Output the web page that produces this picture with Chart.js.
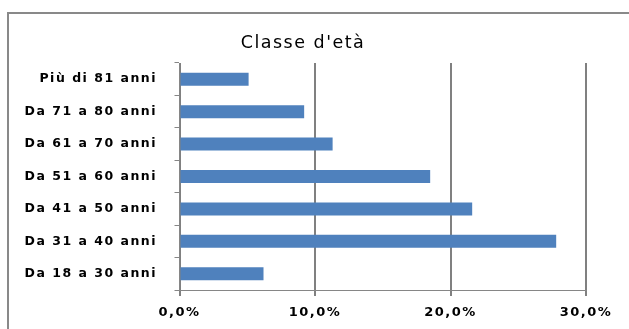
<!DOCTYPE html>
<html>
<head>
<meta charset="utf-8">
<script src="https://cdn.jsdelivr.net/npm/chart.js@4/dist/chart.umd.min.js"></script>
<style>
  html, body { margin: 0; padding: 0; background: #fff; }
  #wrap { position: relative; width: 629px; height: 329px; overflow: hidden; }
  #frame { position: absolute; left: 7px; top: 12px; width: 700px; height: 400px;
           border-left: 2px solid #898989; border-top: 2px solid #898989; }
  canvas { position: absolute; left: 0; top: 0; }
</style>
</head>
<body>
<div id="wrap">
  <div id="frame"></div>
  <canvas id="c" width="629" height="329"></canvas>
</div>
<script>
const categories = ['Da 18 a 30 anni', 'Da 31 a 40 anni', 'Da 41 a 50 anni', 'Da 51 a 60 anni',
                    'Da 61 a 70 anni', 'Da 71 a 80 anni', 'Più di 81 anni'];
const percentages = [6.2, 27.8, 21.6, 18.5, 11.3, 9.2, 5.1];
const xTicks = [0, 10, 20, 30];
const chartTitle = "Classe d'età";

const spacingPlugin = {
  id: 'spacing',
  beforeLayout(chart) { chart.ctx.letterSpacing = '1.5px'; },
  beforeDraw(chart) { chart.ctx.letterSpacing = '1.5px'; }
};

new Chart(document.getElementById('c'), {
  type: 'bar',
  data: {
    labels: categories,
    datasets: [{
      data: percentages,
      backgroundColor: '#4f81bd',
      borderWidth: 0,
      categoryPercentage: 1,
      barPercentage: 0.4
    }]
  },
  plugins: [spacingPlugin],
  options: {
    indexAxis: 'y',
    responsive: false,
    animation: false,
    layout: { padding: { left: 20, right: 43, top: 0, bottom: 0 } },
    plugins: {
      legend: { display: false },
      tooltip: { enabled: false },
      title: {
        display: true,
        text: chartTitle,
        color: '#000',
        font: { family: 'DejaVu Sans', size: 17.5, weight: 'normal' },
        padding: { top: 32.5, bottom: 9.5 }
      }
    },
    scales: {
      y: {
        reverse: true,
        afterFit(scale) { scale.width = 159.5; },
        grid: { drawOnChartArea: false, drawTicks: true, tickLength: 5, color: '#868686', lineWidth: 1 },
        border: { display: true, color: '#868686', width: 1 },
        ticks: {
          padding: 17.5,
          color: '#000',
          font: { family: 'DejaVu Sans', size: 12.5, weight: 'bold' }
        }
      },
      x: {
        min: 0, max: 30,
        afterFit(scale) { scale.height = 39; },
        afterBuildTicks(scale) { scale.ticks = xTicks.map(v => ({ value: v })); },
        grid: { drawOnChartArea: true, drawTicks: true, tickLength: 6, color: '#808080', lineWidth: 2 },
        border: { display: true, color: '#868686', width: 1 },
        ticks: {
          padding: 9,
          color: '#000',
          font: { family: 'DejaVu Sans', size: 13, weight: '600' },
          callback: (v) => Number(v).toFixed(1).replace('.', ',') + '%'
        }
      }
    }
  }
});
</script>
</body>
</html>
